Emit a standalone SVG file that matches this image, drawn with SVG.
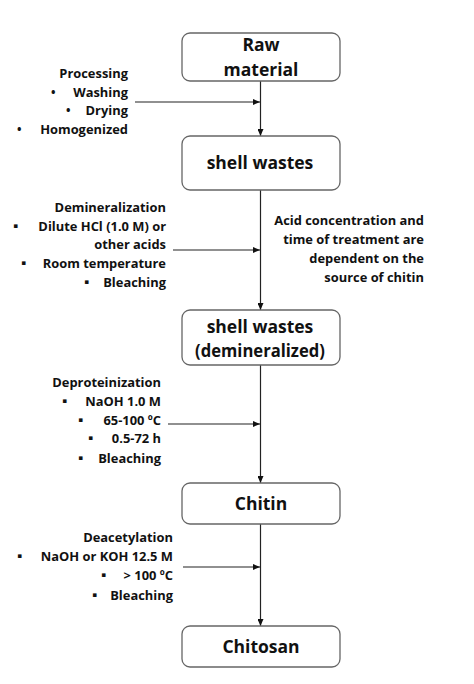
<svg xmlns="http://www.w3.org/2000/svg" width="474" height="684" viewBox="0 0 474 684">
<style>
text{font-family:"Open Sans",Lato,"Liberation Sans",sans-serif;font-weight:bold;fill:#111}
.box{fill:#fff;stroke:#666;stroke-width:1.3}
.bt{font-size:17.5px;text-anchor:middle}
.lt{font-size:12.9px;text-anchor:end}
.bl{font-size:12px}
.ln{stroke:#222;stroke-width:1.2;fill:none}
</style>
<defs>
<marker id="ah" markerWidth="8" markerHeight="6" refX="7" refY="3" orient="auto" markerUnits="userSpaceOnUse">
<path d="M0,0 L7,3 L0,6 z" fill="#111"/>
</marker>
</defs>
<rect width="474" height="684" fill="#fff"/>
<g id="connectors">
<line class="ln" x1="260.5" y1="81" x2="260.5" y2="136" marker-end="url(#ah)"/>
<line class="ln" x1="135" y1="102" x2="260" y2="102" marker-end="url(#ah)"/>
<line class="ln" x1="260.5" y1="190" x2="260.5" y2="310" marker-end="url(#ah)"/>
<line class="ln" x1="173" y1="250" x2="260" y2="250" marker-end="url(#ah)"/>
<line class="ln" x1="260.5" y1="365" x2="260.5" y2="483" marker-end="url(#ah)"/>
<line class="ln" x1="168" y1="424" x2="260" y2="424" marker-end="url(#ah)"/>
<line class="ln" x1="260.5" y1="524" x2="260.5" y2="626" marker-end="url(#ah)"/>
<line class="ln" x1="183" y1="567" x2="260" y2="567" marker-end="url(#ah)"/>
</g>
<g id="raw">
<rect class="box" x="182" y="33" width="158" height="48" rx="8"/>
<text class="bt" x="261" y="51">Raw</text>
<text class="bt" x="261" y="76">material</text>
</g>
<g id="shell">
<rect class="box" x="182" y="136" width="158" height="54" rx="8"/>
<text class="bt" x="260" y="169">shell wastes</text>
</g>
<g id="demin">
<rect class="box" x="182" y="310" width="158" height="55" rx="8"/>
<text class="bt" x="260" y="333">shell wastes</text>
<text class="bt" transform="translate(260,357) scale(0.95,1)">(demineralized)</text>
</g>
<g id="chitin">
<rect class="box" x="182" y="483" width="158" height="41" rx="8"/>
<text class="bt" x="261" y="510">Chitin</text>
</g>
<g id="chitosan">
<rect class="box" x="182" y="626" width="158" height="41" rx="8"/>
<text class="bt" x="261" y="653">Chitosan</text>
</g>
<g id="processing">
<text class="lt" x="128" y="78">Processing</text>
<text class="lt" x="128" y="97">Washing</text>
<text class="lt" x="128" y="115">Drying</text>
<text class="lt" x="128" y="134">Homogenized</text>
<text class="bl" x="51" y="97">•</text>
<text class="bl" x="66" y="115">•</text>
<text class="bl" x="17" y="134">•</text>
</g>
<g id="demineralization">
<text class="lt" x="166" y="212">Demineralization</text>
<text class="lt" x="166" y="231">Dilute HCl (1.0 M) or</text>
<text class="lt" x="166" y="249">other acids</text>
<text class="lt" x="166" y="268">Room temperature</text>
<text class="lt" x="166" y="287">Bleaching</text>
<text class="bl" x="13" y="230">▪</text>
<text class="bl" x="21" y="267">▪</text>
<text class="bl" x="84" y="286">▪</text>
</g>
<g id="note">
<text class="lt" x="424" y="225">Acid concentration and</text>
<text class="lt" x="424" y="244">time of treatment are</text>
<text class="lt" x="424" y="263">dependent on the</text>
<text class="lt" x="424" y="282">source of chitin</text>
</g>
<g id="deproteinization">
<text class="lt" x="161" y="387">Deproteinization</text>
<text class="lt" x="161" y="406">NaOH 1.0 M</text>
<text class="lt" x="161" y="425">65-100 ºC</text>
<text class="lt" x="161" y="443">0.5-72 h</text>
<text class="lt" x="161" y="463">Bleaching</text>
<text class="bl" x="62" y="405">▪</text>
<text class="bl" x="78" y="424">▪</text>
<text class="bl" x="88" y="442">▪</text>
<text class="bl" x="78" y="462">▪</text>
</g>
<g id="deacetylation">
<text class="lt" x="173" y="542">Deacetylation</text>
<text class="lt" x="173" y="561">NaOH or KOH 12.5 M</text>
<text class="lt" x="173" y="580">&gt; 100 ºC</text>
<text class="lt" x="173" y="600">Bleaching</text>
<text class="bl" x="17" y="560">▪</text>
<text class="bl" x="101" y="579">▪</text>
<text class="bl" x="92" y="599">▪</text>
</g>
</svg>
